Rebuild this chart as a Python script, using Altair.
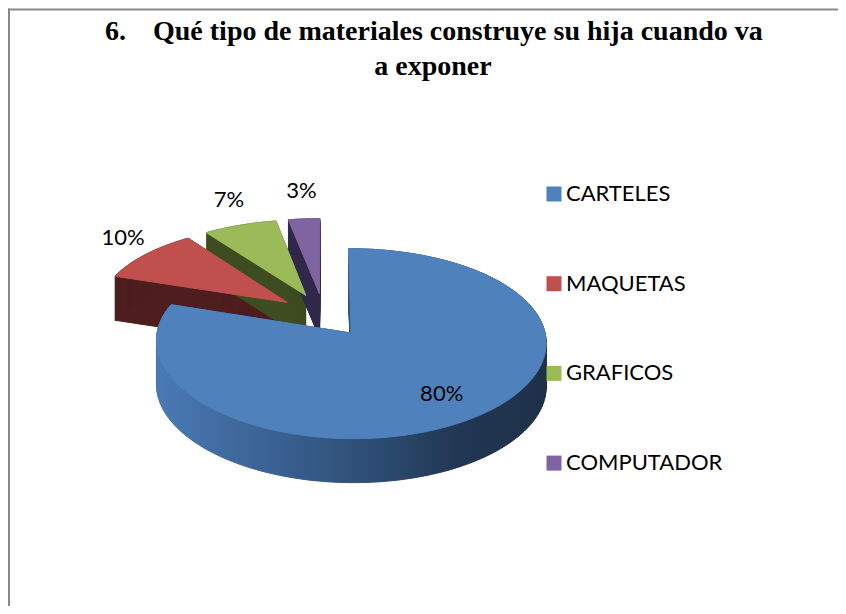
import altair as alt
import pandas as pd

# ---- data -------------------------------------------------------------
categories = ["CARTELES", "MAQUETAS", "GRAFICOS", "COMPUTADOR"]
values = [80, 10, 7, 3]

# ---- style ------------------------------------------------------------
top_colors = ["#4F81BD", "#C0504D", "#9BBB59", "#8064A2"]
side_colors = ["#2E4C76", "#4E1E1E", "#3E4C21", "#30284A"]
blue_side_stops = [("#4A7AB4", 0.0), ("#3A6192", 0.3), ("#2E4D74", 0.55),
                   ("#213652", 0.78), ("#1F3149", 1.0)]

title_number = "6."
title_line1 = "Qué tipo de materiales construye su hija cuando va"
title_line2 = "a exponer"

W, H = 830, 598          # whole drawing (autosize none, padding 0)
RX, RY = 190.5, 90.9     # px per unit radius (x) and per unit depth (y)
CX, CY = 315.7, 307      # un-exploded pie centre in px
PX, PY = 0.095, 0.1166   # mild perspective of the tilted pie
EXPLODE = 0.24
DEPTH = 44
N = 120
LABEL_GAP = 28           # px between rim and outside labels

df = pd.DataFrame({"cat": categories, "value": values,
                   "idx": list(range(len(categories)))})

x_scale = alt.Scale(domain=[-CX / RX, (W - CX) / RX], nice=False, zero=False)
y_scale = alt.Scale(domain=[(CY - H) / RY, CY / RY], nice=False, zero=False)

base = (
    alt.Chart(df)
    .transform_window(cum="sum(value)", sort=[alt.SortField("idx")], frame=[None, 0])
    .transform_joinaggregate(total="sum(value)")
    .transform_calculate(a0="2*PI*(datum.cum - datum.value)/datum.total")
    .transform_calculate(a1="2*PI*datum.cum/datum.total")
    .transform_calculate(mid="(datum.a0 + datum.a1)/2")
    .transform_calculate(ex=f"{EXPLODE}*sin(datum.mid)")
    .transform_calculate(ey=f"{EXPLODE}*cos(datum.mid)")
)

pts = (
    base.transform_calculate(steps=f"sequence(-1, {N + 1})")
    .transform_flatten(["steps"])
    .transform_calculate(ang=f"datum.a0 + (datum.a1 - datum.a0) * max(datum.steps, 0) / {N}")
    .transform_calculate(u="datum.ex + (datum.steps < 0 ? 0 : sin(datum.ang))")
    .transform_calculate(v="datum.ey + (datum.steps < 0 ? 0 : cos(datum.ang))")
    .transform_calculate(px=f"datum.u * (1 - {PX} * datum.v)")
    .transform_calculate(py=f"datum.v - {PY} * datum.v * datum.v")
)

sides = (
    pts.transform_calculate(zs=f"sequence(0, {DEPTH + 1})")
    .transform_flatten(["zs"])
    .transform_calculate(pz=f"datum.py - datum.zs / {RY}")
)

X = alt.X("px:Q", scale=x_scale, axis=None)
ORD = alt.Order("steps:Q")

top_scale = alt.Scale(domain=categories, range=top_colors)
side_scale = alt.Scale(domain=categories, range=side_colors)

side_small = (
    sides.transform_filter("datum.idx > 0")
    .mark_line(interpolate="linear-closed", strokeWidth=1)
    .encode(x=X, y=alt.Y("pz:Q", scale=y_scale, axis=None), order=ORD,
            detail=["cat:N", "zs:Q"],
            fill=alt.Fill("cat:N", scale=side_scale, legend=None),
            stroke=alt.Stroke("cat:N", scale=side_scale, legend=None))
)

grad = alt.LinearGradient(
    gradient="linear",
    stops=[alt.GradientStop(color=c, offset=o) for c, o in blue_side_stops],
    x1=0, x2=1, y1=0, y2=0,
)

side_blue = (
    sides.transform_filter("datum.idx == 0")
    .mark_line(interpolate="linear-closed", fill=grad, stroke=grad, strokeWidth=1)
    .encode(x=X, y=alt.Y("pz:Q", scale=y_scale, axis=None), order=ORD,
            detail="zs:Q")
)

legend = alt.Legend(
    title=None, orient="none", legendX=535, legendY=175,
    symbolType="square", symbolSize=225, symbolStrokeWidth=0,
    labelFont="Lato", labelFontSize=22, labelColor="black",
    labelOffset=1, rowPadding=67.7, padding=0, labelLimit=300,
)

top_small = (
    pts.transform_filter("datum.idx > 0")
    .mark_line(interpolate="linear-closed", strokeWidth=1)
    .encode(x=X, y=alt.Y("py:Q", scale=y_scale, axis=None), order=ORD,
            detail="cat:N",
            fill=alt.Fill("cat:N", scale=top_scale, legend=legend),
            stroke=alt.Stroke("cat:N", scale=top_scale, legend=None))
)

top_blue = (
    pts.transform_filter("datum.idx == 0")
    .mark_line(interpolate="linear-closed", strokeWidth=1)
    .encode(x=X, y=alt.Y("py:Q", scale=y_scale, axis=None), order=ORD,
            detail="cat:N",
            fill=alt.Fill("cat:N", scale=top_scale, legend=None),
            stroke=alt.Stroke("cat:N", scale=top_scale, legend=None))
)

labels = (
    base.transform_calculate(inside="datum.value > 50 ? 1 : 0")
    .transform_calculate(lr="datum.inside ? 0.74 : 1")
    .transform_calculate(lu="datum.ex + datum.lr*sin(datum.mid)")
    .transform_calculate(lv="datum.ey + datum.lr*cos(datum.mid)")
    .transform_calculate(
        lx=f"datum.lu * (1 - {PX} * datum.lv) + (1 - datum.inside) * {LABEL_GAP / RX} * sin(datum.mid)")
    .transform_calculate(
        ly=f"datum.lv - {PY} * datum.lv * datum.lv + (1 - datum.inside) * {LABEL_GAP / RY} * cos(datum.mid)")
    .transform_calculate(lab="datum.value + '%'")
    .mark_text(font="Lato", fontSize=22, color="black", baseline="middle")
    .encode(x=alt.X("lx:Q", scale=x_scale, axis=None),
            y=alt.Y("ly:Q", scale=y_scale, axis=None),
            text="lab:N")
)

one = pd.DataFrame({"k": [0]})
tfont = dict(font="Liberation Serif", fontWeight="bold", fontSize=28,
             color="black", baseline="alphabetic")
t_num = alt.Chart(one).mark_text(text=title_number, align="left", **tfont).encode(
    x=alt.value(97), y=alt.value(32))
t_l1 = alt.Chart(one).mark_text(text=title_line1, align="left", **tfont).encode(
    x=alt.value(145), y=alt.value(32))
t_l2 = alt.Chart(one).mark_text(text=title_line2, align="center", **tfont).encode(
    x=alt.value(425), y=alt.value(67))

border_l = alt.Chart(one).mark_rect(color="#888888").encode(
    x=alt.value(0), x2=alt.value(2), y=alt.value(0.5), y2=alt.value(H))
frame_top = pd.DataFrame({"edge": ["top"]})
border_t = alt.Chart(frame_top).mark_rect(color="#888888").encode(
    x=alt.value(0), x2=alt.value(W), y=alt.value(0.5), y2=alt.value(2.5))

chart = (
    alt.layer(border_l, border_t, side_small, top_small, side_blue, top_blue,
              labels, t_num, t_l1, t_l2)
    .properties(width=W, height=H, padding=0,
                autosize=alt.AutoSizeParams(type="none"))
    .resolve_scale(fill="independent", stroke="independent")
    .configure_view(strokeWidth=0)
)

chart.save("out.html", embed_options={"renderer": "svg", "actions": False})
